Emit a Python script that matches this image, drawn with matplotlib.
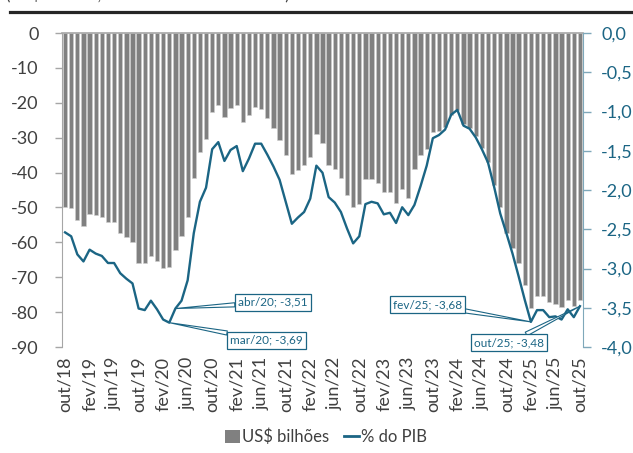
import matplotlib
matplotlib.use("Agg")
import matplotlib.pyplot as plt
from matplotlib.patches import Patch
from matplotlib.lines import Line2D
import numpy as np

plt.rcParams['font.family'] = ['Lato', 'DejaVu Sans']

months_pt = ["jan", "fev", "mar", "abr", "mai", "jun", "jul", "ago", "set", "out", "nov", "dez"]

# Monthly periods out/18 .. out/25
periods = []
m, y = 9, 18
for _ in range(85):
    periods.append(f"{months_pt[m]}/{y:02d}")
    m += 1
    if m == 12:
        m, y = 0, y + 1

usd_bilhoes = [
    -50.0, -50.2, -53.7, -55.2, -52.0, -52.3, -52.6, -54.1, -54.3, -57.2,
    -58.5, -60.0, -65.9, -65.9, -63.9, -65.3, -67.4, -67.2, -62.1, -58.3,
    -52.7, -41.6, -34.2, -30.5, -22.5, -20.7, -24.2, -21.6, -20.7, -25.4,
    -23.6, -21.2, -21.9, -24.5, -27.3, -30.6, -35.1, -40.5, -39.3, -37.9,
    -35.4, -29.0, -31.4, -37.8, -39.0, -41.6, -46.4, -50.0, -49.1, -41.9,
    -41.9, -42.9, -45.7, -45.7, -48.6, -44.8, -47.2, -39.1, -35.0, -33.3,
    -28.5, -28.0, -27.0, -23.5, -22.0, -26.0, -27.3, -29.5, -33.0, -37.0,
    -43.5, -50.0, -57.3, -61.5, -66.0, -72.2, -78.8, -75.5, -75.5, -77.0,
    -77.7, -78.5, -76.5, -78.2, -76.6,
]

pct_pib = [
    -2.54, -2.59, -2.82, -2.91, -2.76, -2.81, -2.84, -2.93, -2.93, -3.06,
    -3.13, -3.19, -3.51, -3.53, -3.41, -3.52, -3.65, -3.69, -3.51, -3.41,
    -3.15, -2.55, -2.15, -1.97, -1.48, -1.39, -1.63, -1.49, -1.44, -1.76,
    -1.60, -1.41, -1.41, -1.55, -1.70, -1.87, -2.15, -2.43, -2.35, -2.28,
    -2.11, -1.69, -1.78, -2.09, -2.16, -2.28, -2.49, -2.68, -2.59, -2.18,
    -2.15, -2.17, -2.31, -2.29, -2.42, -2.22, -2.32, -2.19, -1.95, -1.69,
    -1.34, -1.30, -1.23, -1.04, -0.98, -1.18, -1.22, -1.33, -1.48, -1.65,
    -1.96, -2.30, -2.55, -2.81, -3.10, -3.40, -3.68, -3.53, -3.53, -3.62,
    -3.61, -3.65, -3.52, -3.62, -3.48,
]

tick_labels = periods[::4]
left_ticks = list(range(0, -91, -10))
right_ticks = [0.0, -0.5, -1.0, -1.5, -2.0, -2.5, -3.0, -3.5, -4.0]

annotated = ["abr/20", "mar/20", "fev/25", "out/25"]

GRAY = "#808080"
TEAL = "#1b6584"
TXT = "#404040"

W, H = 633, 453
fig = plt.figure(figsize=(W / 100, H / 100), dpi=100)
ax = fig.add_axes([62 / W, 1 - 347 / H, (583 - 62) / W, (347 - 33) / H])

x = np.arange(len(periods))
ax.bar(x, usd_bilhoes, width=0.7, color=GRAY, edgecolor="#cfcfcf", linewidth=0.4, zorder=2)
ax.set_xlim(-0.5, len(periods) - 0.5)
ax.set_ylim(-90, 0)
ax.set_yticks(left_ticks)
ax.set_yticklabels([str(v) for v in left_ticks])
ax.tick_params(axis="y", direction="out", length=5, width=1, color="#a6a6a6",
               labelsize=13, labelcolor=TXT, pad=12)
ax.set_xticks(x[::4])
ax.set_xticklabels(tick_labels, rotation=90, fontsize=13, color=TXT)
ax.tick_params(axis="x", length=0, pad=7)
for s in ["top", "right", "bottom"]:
    ax.spines[s].set_visible(False)
ax.spines["left"].set_color("#a6a6a6")
ax.axhline(0, color="#a6a6a6", lw=1.2, zorder=3, clip_on=False)

ax2 = ax.twinx()
ax2.plot(x, pct_pib, color=TEAL, lw=1.7, zorder=4)
ax2.set_ylim(-4.0, 0.0)
ax2.set_yticks(right_ticks)
ax2.set_yticklabels([f"{v:.1f}".replace(".", ",") for v in right_ticks])
ax2.tick_params(axis="y", direction="out", length=6, width=1, color="#7fa8ba",
                labelsize=13, labelcolor=TEAL, pad=7)
for s in ["top", "left", "bottom"]:
    ax2.spines[s].set_visible(False)
ax2.spines["right"].set_color("#7fa8ba")

# callout positions in axes fraction (layout only)
text_pos = {
    "abr/20": (0.405, 0.142),
    "mar/20": (0.393, 0.022),
    "fev/25": (0.701, 0.135),
    "out/25": (0.858, 0.013),
}
for lab in annotated:
    i = periods.index(lab)
    v = pct_pib[i]
    txt = f"{lab}; {v:.2f}".replace(".", ",")
    ax2.annotate(
        txt, xy=(x[i], v), xycoords="data",
        xytext=text_pos[lab], textcoords="axes fraction",
        ha="center", va="center", fontsize=8.5, color=TEAL,
        bbox=dict(boxstyle="square,pad=0.25", fc="white", ec=TEAL, lw=0.9),
        arrowprops=dict(arrowstyle="wedge,tail_width=0.35,shrink_factor=0.5",
                        fc="white", ec=TEAL, lw=0.8, shrinkA=0, shrinkB=0),
        zorder=6, annotation_clip=False,
    )

# cropped heading (only its lowest edge is visible) & rule at top
fig.text(6 / W, 1 - 3.5 / H, "(US$ bilhões, acumulado em 12 meses)", fontsize=12,
         color=TXT, va="bottom", ha="left")
fig.add_artist(Line2D([10 / W, 1.0], [1 - 11.5 / H, 1 - 11.5 / H], color="#262626",
                      lw=2.3, transform=fig.transFigure))

handles = [Patch(facecolor=GRAY, edgecolor="none", label="US$ bilhões"),
           Line2D([0], [0], color=TEAL, lw=2, label="% do PIB")]
fig.legend(handles=handles, loc="center", bbox_to_anchor=(326 / W, 1 - 437 / H),
           ncol=2, frameon=False, fontsize=12, handlelength=0.9, handleheight=0.8,
           handletextpad=0.1, columnspacing=0.9, labelcolor=TXT)

fig.savefig("out.png", dpi=100)
